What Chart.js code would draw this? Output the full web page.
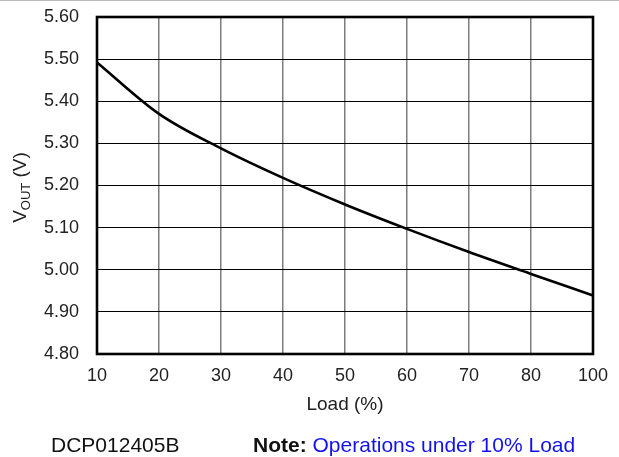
<!DOCTYPE html>
<html>
<head>
<meta charset="utf-8">
<script src="https://cdn.jsdelivr.net/npm/chart.js@4"></script>
<style>
  html, body { margin: 0; padding: 0; background: #fff; }
  #wrap { position: relative; width: 619px; height: 457px; overflow: hidden; }
  #topline { position: absolute; left: 0; top: 0; width: 619px; height: 1px; background: #b9b9b9; }
  .foot { position: absolute; top: 434px; font-family: 'Liberation Sans', Arial, sans-serif; font-size: 21px; line-height: 21px; color: #111; white-space: nowrap; }
  #partno { left: 51px; }
  #note { left: 253px; }
  #note b { font-weight: bold; }
  #note span { color: #1212f0; }
</style>
</head>
<body>
<div id="wrap">
  <canvas id="vout-chart" width="619" height="457"></canvas>
  <div id="topline"></div>
  <div class="foot" id="partno">DCP012405B</div>
  <div class="foot" id="note"><b>Note:</b> <span>Operations under 10% Load</span></div>
</div>
<script>
// load axis labels (the source skips 90 and labels the last line 100)
const loadLabels = ['10', '20', '30', '40', '50', '60', '70', '80', '100'];
// output voltage read at each load gridline
const voutValues = [5.492, 5.370, 5.288, 5.218, 5.155, 5.097, 5.042, 4.990, 4.939];
const yTicks = [4.8, 4.9, 5.0, 5.1, 5.2, 5.3, 5.4, 5.5, 5.6];

const FONT = "'Liberation Sans', Arial, sans-serif";

// thick black frame round the plot area
const frame = {
    id: 'frame',
    beforeDatasetsDraw(chart) {
        const { ctx, chartArea: a } = chart;
        ctx.save();
        ctx.strokeStyle = '#000';
        ctx.lineWidth = 2.6;
        ctx.strokeRect(a.left, a.top, a.right - a.left, a.bottom - a.top);
        ctx.restore();
    }
};

// y title with subscript, V_OUT (V)
const yTitle = {
    id: 'yTitle',
    afterDraw(chart) {
        const ctx = chart.ctx;
        const a = chart.chartArea;
        const big = '19px ' + FONT;
        const small = '13px ' + FONT;
        ctx.save();
        ctx.translate(21, (a.top + a.bottom) / 2 + 2);
        ctx.rotate(-Math.PI / 2);
        ctx.fillStyle = '#222';
        ctx.textBaseline = 'middle';
        ctx.textAlign = 'left';
        ctx.font = big;
        const w1 = ctx.measureText('V').width;
        const w3 = ctx.measureText(' (V)').width;
        ctx.font = small;
        const w2 = ctx.measureText('OUT').width;
        let x = -(w1 + w2 + w3) / 2;
        ctx.font = big;
        ctx.fillText('V', x, 0);
        x += w1;
        ctx.font = small;
        ctx.fillText('OUT', x, 5);
        x += w2;
        ctx.font = big;
        ctx.fillText(' (V)', x, 0);
        ctx.restore();
    }
};

// fixed axis sizes so the plot box lands where the original one is
function noPad(scale) {
    scale.paddingTop = 0;
    scale.paddingBottom = 0;
    scale.paddingLeft = 0;
    scale.paddingRight = 0;
}

const ctx = document.getElementById('vout-chart').getContext('2d');

new Chart(ctx, {
    type: 'line',
    data: {
        labels: loadLabels,
        datasets: [{
            data: voutValues,
            borderColor: '#000',
            borderWidth: 2.6,
            pointRadius: 0,
            fill: false,
            cubicInterpolationMode: 'monotone'
        }]
    },
    options: {
        responsive: false,
        animation: false,
        devicePixelRatio: 1,
        layout: { autoPadding: false, padding: { left: 0, top: 17, right: 26, bottom: 0 } },
        plugins: {
            legend: { display: false },
            tooltip: { enabled: false }
        },
        scales: {
            x: {
                type: 'category',
                offset: false,
                grid: { color: '#7d7d7d', lineWidth: 1.5, drawTicks: false },
                border: { display: false },
                ticks: {
                    autoSkip: false,
                    maxRotation: 0,
                    padding: 11,
                    color: '#222',
                    font: { family: FONT, size: 18 }
                },
                title: {
                    display: true,
                    text: 'Load (%)',
                    color: '#222',
                    font: { family: FONT, size: 19 },
                    padding: { top: 0, bottom: 41 }
                },
                afterFit(scale) { scale.height = 103; noPad(scale); }
            },
            y: {
                min: 4.8,
                max: 5.6,
                grid: { color: '#000', lineWidth: 1, drawTicks: false },
                border: { display: false },
                afterBuildTicks(scale) {
                    scale.ticks = yTicks.map(v => ({ value: v }));
                },
                ticks: {
                    padding: 18,
                    color: '#222',
                    font: { family: FONT, size: 18 },
                    callback: v => v.toFixed(2)
                },
                afterFit(scale) { scale.width = 97; noPad(scale); }
            }
        }
    },
    plugins: [frame, yTitle]
});
</script>
</body>
</html>
